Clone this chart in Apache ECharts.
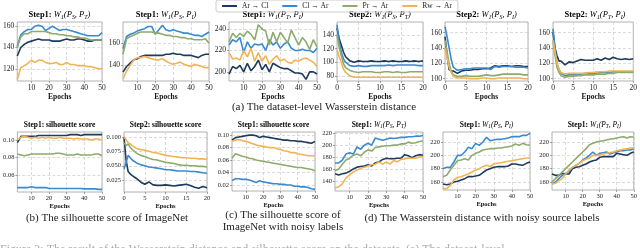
<!DOCTYPE html>
<html><head><meta charset="utf-8">
<script src="https://cdn.jsdelivr.net/npm/echarts@6/dist/echarts.min.js"></script>
<style>html,body{margin:0;padding:0;background:#fff}#c{width:640px;height:248px}</style>
</head><body><div id="c"></div>
<script>
// ---------------- DATA ----------------
const SERIES_NAMES = ['Ar \u2192 Cl', 'Cl \u2192 Ar', 'Pr \u2192 Ar', 'Rw \u2192 Ar'];
const EPOCHS_50 = [2,4,6,8,10,12,14,16,18,20,22,24,26,28,30,32,34,36,38,40,42,44,46,48,50];
const EPOCHS_20 = [0,0.5,1,1.5,2,3,4,5,6,7,8,9,10,11,12,13,14,15,16,17,18,19,20];
const X_TICKS_50 = [10,20,30,40,50];
const X_TICKS_20 = [0,5,10,15,20];

// (a) panel 1: Step1 W1(PS,PT)
const a1_ArCl = [132,140,143,145,146,147,148,147,147,147,146,146,146,147,148,147,147,148,148,147,146,146,147,147,147];
const a1_ClAr = [141,152,155,157,157,160,161,160,156,158,160,158,156,157,157,156,155,154,153,152,151,151,151,151,154];
const a1_PrAr = [140,150,153,153,155,155,155,155,155,154,153,153,152,152,151,151,150,150,149,149,148,147,147,147,147];
const a1_RwAr = [110,121,123,125,128,126,128,128,126,125,125,126,124,124,126,124,124,123,123,123,122,122,121,120,120];
const a1_yTicks = [120,140,160];
// (a) panel 2: Step1 W1(PS,PI)
const a2_ArCl = [134,139,142,145,146,148,149,149,149,149,149,149,150,150,151,150,150,149,149,149,148,147,149,150,150];
const a2_ClAr = [155,166,168,169,171,172,173,175,175,168,172,176,172,171,172,171,170,169,169,168,167,167,166,168,170];
const a2_PrAr = [150,164,166,167,169,170,170,170,170,169,169,168,167,167,166,166,165,165,164,164,163,163,163,164,160];
const a2_RwAr = [128,135,140,145,147,147,148,147,146,145,145,146,144,142,141,142,143,141,140,139,141,140,139,138,138];
const a2_yTicks = [140,160];
// (a) panel 3: Step1 W1(PT,PI)
const a3_ArCl = [198,205,203,206,200,208,201,205,211,202,207,200,208,206,204,203,203,201,199,199,198,193,200,200,198];
const a3_ClAr = [225,230,228,232,218,228,222,226,225,226,220,230,225,228,222,226,228,222,220,220,221,220,220,218,222];
const a3_PrAr = [228,236,232,236,233,238,235,230,244,240,238,225,237,228,237,232,227,239,232,225,232,228,221,230,223];
const a3_RwAr = [218,212,213,211,220,214,222,210,218,210,215,207,212,215,210,212,209,208,211,210,212,213,211,209,205];
const a3_yTicks = [200,220,240];
// (a) panel 4: Step2 W1(PS,PT)
const a4_ArCl = [150,135,125,115,108,102,100,102,101,101,102,101,101,102,101,102,101,101,102,101,102,101,102];
const a4_ClAr = [155,130,115,105,100,95,94,95,94,94,95,95,95,95,96,95,96,96,96,96,96,95,95];
const a4_PrAr = [140,122,110,98,92,88,86,85,86,86,86,85,85,86,86,85,86,85,85,86,86,86,86];
const a4_RwAr = [118,108,100,90,85,80,78,78,78,78,78,78,78,78,78,78,78,78,78,78,78,78,78];
const a4_yTicks = [80,100,120,140];
// (a) panel 5: Step2 W1(PS,PI)
const a5_ArCl = [155,130,112,110,110,107,110,111,111,112,112,113,113,114,117,116,117,117,116,117,117,116,116];
const a5_ClAr = [168,155,140,125,115,111,112,113,113,114,114,114,114,112,116,115,116,116,116,115,115,115,114];
const a5_PrAr = [150,135,120,110,105,103,103,104,103,103,103,104,105,104,104,105,106,106,106,106,106,105,105];
const a5_RwAr = [140,128,115,108,103,101,101,101,100,100,100,101,101,100,100,101,101,101,101,101,101,100,100];
const a5_yTicks = [100,120,140,160];
// (a) panel 6: Step2 W1(PT,PI)
const a6_ArCl = [160,140,130,123,123,118,122,121,123,125,124,124,124,126,124,127,125,128,126,125,126,125,126];
const a6_ClAr = [165,140,120,112,107,104,105,105,106,106,107,107,107,107,108,108,108,109,109,109,109,109,109];
const a6_PrAr = [150,130,115,108,104,102,103,103,104,104,105,105,105,106,106,106,107,107,108,108,108,108,108];
const a6_RwAr = [150,135,120,112,108,106,107,107,107,107,107,108,108,109,109,109,110,110,110,110,110,110,110];
const a6_yTicks = [100,120,140,160];
// (b) panel 1: Step1 silhouette score
const b1_ArCl = [0.097,0.104,0.104,0.104,0.104,0.104,0.105,0.105,0.105,0.105,0.105,0.105,0.105,0.105,0.105,0.106,0.106,0.106,0.105,0.106,0.106,0.106,0.106,0.106,0.106];
const b1_ClAr = [0.046,0.046,0.046,0.046,0.047,0.046,0.046,0.046,0.046,0.045,0.045,0.045,0.045,0.045,0.045,0.045,0.045,0.045,0.045,0.0445,0.0445,0.0445,0.0445,0.044,0.044];
const b1_PrAr = [0.084,0.083,0.082,0.083,0.084,0.084,0.084,0.084,0.084,0.084,0.084,0.085,0.085,0.084,0.083,0.083,0.083,0.084,0.083,0.083,0.083,0.083,0.084,0.084,0.082];
const b1_RwAr = [0.100,0.103,0.104,0.103,0.102,0.103,0.102,0.103,0.102,0.103,0.102,0.102,0.103,0.102,0.102,0.102,0.101,0.102,0.101,0.101,0.101,0.100,0.101,0.101,0.100];
const b1_yTicks = [0.06,0.08,0.10];
// (b) panel 2: Step2 silhouette score
const b2_ArCl = [0.100,0.060,0.040,0.036,0.033,0.028,0.022,0.018,0.022,0.017,0.016,0.016,0.017,0.016,0.015,0.016,0.017,0.018,0.016,0.013,0.011,0.014,0.012];
const b2_ClAr = [0.045,0.055,0.068,0.064,0.060,0.055,0.052,0.050,0.048,0.047,0.046,0.045,0.043,0.043,0.042,0.041,0.041,0.041,0.040,0.040,0.039,0.038,0.037];
const b2_PrAr = [0.090,0.085,0.088,0.082,0.078,0.072,0.068,0.066,0.063,0.061,0.060,0.058,0.056,0.055,0.054,0.052,0.051,0.051,0.050,0.050,0.049,0.049,0.048];
const b2_RwAr = [0.100,0.095,0.090,0.088,0.085,0.080,0.078,0.077,0.075,0.073,0.072,0.070,0.068,0.067,0.066,0.065,0.064,0.064,0.063,0.063,0.062,0.062,0.061];
const b2_yTicks = [0.025,0.050,0.075,0.100];
// (c) Step1 silhouette score, noisy labels
const c_ArCl = [0.092,0.096,0.097,0.098,0.099,0.100,0.100,0.099,0.096,0.098,0.097,0.096,0.095,0.094,0.093,0.092,0.092,0.091,0.091,0.090,0.090,0.089,0.088,0.087,0.090];
const c_ClAr = [0.027,0.030,0.030,0.029,0.029,0.028,0.026,0.024,0.027,0.025,0.024,0.023,0.022,0.022,0.021,0.021,0.020,0.020,0.018,0.018,0.017,0.017,0.016,0.014,0.013];
const c_PrAr = [0.063,0.070,0.068,0.066,0.065,0.063,0.062,0.060,0.059,0.058,0.057,0.056,0.055,0.054,0.053,0.052,0.051,0.050,0.049,0.048,0.048,0.047,0.046,0.045,0.043];
const c_RwAr = [0.090,0.092,0.093,0.091,0.090,0.088,0.086,0.084,0.083,0.082,0.081,0.080,0.080,0.078,0.077,0.075,0.074,0.072,0.072,0.070,0.069,0.068,0.067,0.067,0.067];
const c_yTicks = [0.02,0.04,0.06,0.08,0.10];
// (d) panel 1: Step1 W1(PS,PT), noisy source labels
const d1_ArCl = [152,150,152,153,156,160,163,164,165,167,165,170,172,176,178,177,177,178,178,184,182,179,182,184,183];
const d1_ClAr = [170,170,175,185,187,185,197,193,200,203,200,212,210,208,210,212,211,212,213,213,214,214,215,215,216];
const d1_PrAr = [157,160,168,175,178,183,185,182,188,192,190,196,197,198,199,199,200,200,202,202,205,203,204,206,207];
const d1_RwAr = [128,130,135,145,150,155,158,161,163,165,167,168,172,168,172,168,174,172,176,177,178,178,178,180,181];
const d1_yTicks = [140,160,180,200,220];
// (d) panel 2: Step1 W1(PS,PI)
const d2_ArCl = [157,156,157,160,161,163,165,168,168,169,170,174,178,180,182,183,183,183,184,187,187,186,185,188,190];
const d2_ClAr = [180,182,182,190,200,200,205,212,210,218,215,220,227,222,223,224,224,225,226,228,228,228,230,230,233];
const d2_PrAr = [168,170,178,185,192,193,195,193,200,203,205,208,209,210,210,211,211,212,213,214,217,215,218,216,215];
const d2_RwAr = [150,150,155,163,167,168,170,172,175,178,180,183,185,183,187,188,189,190,191,192,193,194,195,196,196];
const d2_yTicks = [160,180,200,220];
// (d) panel 3: Step1 W1(PT,PI)
const d3_ArCl = [172,170,170,173,172,172,180,182,183,185,187,190,192,193,197,198,198,198,198,203,202,201,200,203,205];
const d3_ClAr = [157,160,165,170,173,176,182,185,188,193,196,200,205,200,203,204,205,202,204,205,207,207,208,208,210];
const d3_PrAr = [160,165,170,175,180,185,190,195,200,205,210,216,218,220,221,222,223,224,225,226,227,228,226,228,227];
const d3_RwAr = [157,158,162,165,172,178,182,185,188,192,194,196,200,200,200,202,203,204,205,207,208,209,210,211,211];
const d3_yTicks = [160,180,200,220];

const CAPTION_A = '(a) The dataset-level Wasserstein distance';
const CAPTION_B = '(b) The silhouette score of ImageNet';
const CAPTION_C = '(c) The silhouette score of\nImageNet with noisy labels';
const CAPTION_D = '(d) The Wasserstein distance with noisy source labels';
const FIG_CAPTION = 'Figure 3: The result of the Wasserstein distance and silhouette score on the datasets. (a) The dataset-level';

// ---------------- STYLE / LAYOUT ----------------
const F = '"Liberation Serif", "Times New Roman", serif';
const COLORS = ['#1e3a5c', '#3a8ad0', '#8cab6c', '#f0b455'];

function wTitle(step, a, b) {
  return `{b|${step}: }{i|W}{s|1}{i|(P}{s|${a}}{i|, P}{s|${b}}{i|)}`;
}
function rich(size) {
  return {
    b: {fontFamily: F, fontWeight: 'bold', fontSize: size, lineHeight: 12, color: '#111'},
    i: {fontFamily: F, fontStyle: 'italic', fontSize: size, lineHeight: 12, color: '#111'},
    s: {fontFamily: F, fontStyle: 'italic', fontSize: size * 0.7, lineHeight: 12, padding: [4, 0, 0, 0], color: '#111'}
  };
}

const panels = [
  {rect: [17, 22, 85, 59], row: 0, title: wTitle('Step1', 'S', 'T'), xs: EPOCHS_50, xr: [2, 50], xt: X_TICKS_50, yr: [108.5, 164], yt: a1_yTicks, dec: 0, d: [a1_ArCl, a1_ClAr, a1_PrAr, a1_RwAr]},
  {rect: [123, 22, 86, 59], row: 0, title: wTitle('Step1', 'S', 'I'), xs: EPOCHS_50, xr: [2, 50], xt: X_TICKS_50, yr: [126, 179], yt: a2_yTicks, dec: 0, d: [a2_ArCl, a2_ClAr, a2_PrAr, a2_RwAr]},
  {rect: [229, 22, 88, 59], row: 0, title: wTitle('Step1', 'T', 'I'), xs: EPOCHS_50, xr: [2, 50], xt: X_TICKS_50, yr: [191.5, 246.5], yt: a3_yTicks, dec: 0, d: [a3_ArCl, a3_ClAr, a3_PrAr, a3_RwAr]},
  {rect: [337, 22, 86, 59], row: 0, title: wTitle('Step2', 'S', 'T'), xs: EPOCHS_20, xr: [0, 20], xt: X_TICKS_20, yr: [72.5, 159], yt: a4_yTicks, dec: 0, d: [a4_ArCl, a4_ClAr, a4_PrAr, a4_RwAr]},
  {rect: [445, 22, 83, 59], row: 0, title: wTitle('Step2', 'S', 'I'), xs: EPOCHS_20, xr: [0, 20], xt: X_TICKS_20, yr: [97, 174], yt: a5_yTicks, dec: 0, d: [a5_ArCl, a5_ClAr, a5_PrAr, a5_RwAr]},
  {rect: [553, 22, 84, 59], row: 0, title: wTitle('Step2', 'T', 'I'), xs: EPOCHS_20, xr: [0, 20], xt: X_TICKS_20, yr: [97, 174], yt: a6_yTicks, dec: 0, d: [a6_ArCl, a6_ClAr, a6_PrAr, a6_RwAr]},
  {rect: [17, 132, 85, 60], row: 1, title: '{b|Step1: silhouette score}', xs: EPOCHS_50, xr: [2, 50], xt: X_TICKS_50, yr: [0.041, 0.109], yt: b1_yTicks, dec: 2, d: [b1_ArCl, b1_ClAr, b1_PrAr, b1_RwAr]},
  {rect: [124, 132, 83, 60], row: 1, title: '{b|Step2: silhouette score}', xs: EPOCHS_20, xr: [0, 20], xt: X_TICKS_20, yr: [0.0046, 0.1085], yt: b2_yTicks, dec: 3, d: [b2_ArCl, b2_ClAr, b2_PrAr, b2_RwAr]},
  {rect: [232, 132, 83, 59], row: 1, title: '{b|Step1: silhouette score}', xs: EPOCHS_50, xr: [2, 50], xt: X_TICKS_50, yr: [0.0104, 0.105], yt: c_yTicks, dec: 2, d: [c_ArCl, c_ClAr, c_PrAr, c_RwAr]},
  {rect: [335, 132, 88, 59], row: 1, title: wTitle('Step1', 'S', 'T'), xs: EPOCHS_50, xr: [2, 50], xt: X_TICKS_50, yr: [123, 222], yt: d1_yTicks, dec: 0, d: [d1_ArCl, d1_ClAr, d1_PrAr, d1_RwAr]},
  {rect: [443, 132, 87, 58], row: 1, title: wTitle('Step1', 'S', 'I'), xs: EPOCHS_50, xr: [2, 50], xt: X_TICKS_50, yr: [148, 235], yt: d2_yTicks, dec: 0, d: [d2_ArCl, d2_ClAr, d2_PrAr, d2_RwAr]},
  {rect: [552, 132, 85, 58], row: 1, title: wTitle('Step1', 'T', 'I'), xs: EPOCHS_50, xr: [2, 50], xt: X_TICKS_50, yr: [148, 235], yt: d3_yTicks, dec: 0, d: [d3_ArCl, d3_ClAr, d3_PrAr, d3_RwAr]}
];

const grid = [], xAxis = [], yAxis = [], series = [], graphic = [];
panels.forEach((p, k) => {
  const [l, t, w, h] = p.rect;
  const fs = p.row === 0 ? 7.5 : 6.5;
  grid.push({left: l, top: t, width: w, height: h, show: true, borderColor: '#a0a0a0', borderWidth: 0.8, backgroundColor: 'transparent'});
  xAxis.push({
    type: 'value', gridIndex: k, min: p.xr[0], max: p.xr[1],
    name: 'Epochs', nameLocation: 'middle', nameGap: p.row === 0 ? 11 : 9,
    nameTextStyle: {fontFamily: F, fontWeight: 'bold', fontSize: fs, color: '#111'},
    axisLine: {show: false},
    axisTick: {show: true, length: 2, customValues: p.xt, lineStyle: {color: '#666', width: 0.6}},
    axisLabel: {customValues: p.xt, fontFamily: F, fontSize: fs, color: '#222', margin: 3, showMinLabel: true, showMaxLabel: true},
    splitLine: {show: true, lineStyle: {color: '#cccccc', type: [3, 2], width: 0.7}}
  });
  yAxis.push({
    type: 'value', gridIndex: k, min: p.yr[0], max: p.yr[1],
    axisLine: {show: false},
    axisTick: {show: true, length: 2, customValues: p.yt, lineStyle: {color: '#666', width: 0.6}},
    axisLabel: {customValues: p.yt, fontFamily: F, fontSize: fs, color: '#222', margin: 3,
      formatter: (v) => v.toFixed(p.dec)},
    splitLine: {show: true, lineStyle: {color: '#cccccc', type: [3, 2], width: 0.7}}
  });
  p.d.forEach((ys, si) => {
    series.push({
      type: 'line', name: SERIES_NAMES[si], xAxisIndex: k, yAxisIndex: k,
      data: p.xs.map((x, i) => [x, ys[i]]),
      symbol: 'none', smooth: false,
      lineStyle: {color: COLORS[si], width: 1.6},
      itemStyle: {color: COLORS[si]},
      z: 2 + si
    });
  });
  graphic.push({
    type: 'text', x: l + w / 2, y: t - 7,
    style: {text: p.title, rich: rich(p.row === 0 ? 8.5 : 7.5), align: 'center', verticalAlign: 'middle'}
  });
});

const capStyle = (text, x, y) => ({
  type: 'text', x: x, y: y,
  style: {text: text, fontFamily: F, fontSize: 11, fill: '#222', align: 'center', verticalAlign: 'middle', lineHeight: 12}
});
graphic.push(capStyle(CAPTION_A, 324, 107));
graphic.push(capStyle(CAPTION_B, 107, 218));
graphic.push(capStyle(CAPTION_C, 283, 221));
graphic.push(capStyle(CAPTION_D, 482, 218));
graphic.push({type: 'text', x: 0, y: 244,
  style: {text: FIG_CAPTION, fontFamily: F, fontSize: 12, fill: '#aaaaaa', align: 'left', verticalAlign: 'top'}});

const chart = echarts.init(document.getElementById('c'), null, {renderer: 'canvas', width: 640, height: 248});
chart.setOption({
  animation: false,
  backgroundColor: '#fff',
  legend: {
    data: SERIES_NAMES, left: 216, top: 0,
    icon: 'rect', itemWidth: 15, itemHeight: 2, itemGap: 14,
    padding: [2, 6, 2, 6], borderColor: '#cccccc', borderWidth: 1, borderRadius: 2,
    textStyle: {fontFamily: F, fontSize: 7.5, color: '#222'}
  },
  grid: grid, xAxis: xAxis, yAxis: yAxis, series: series, graphic: graphic
});
</script></body></html>
